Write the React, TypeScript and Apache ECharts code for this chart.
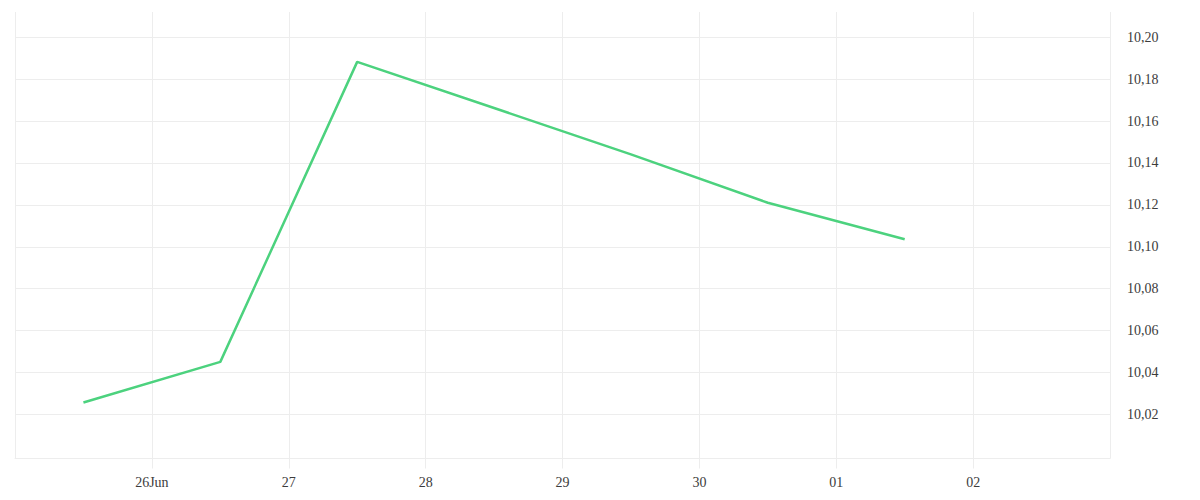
import React, { useEffect, useRef } from "react";
import * as echarts from "echarts";

const DAY = 86400000;
const xMin = Date.UTC(2024, 5, 25);
const xMax = Date.UTC(2024, 6, 3);
const pointDates = [
  "2024-06-25T12:00:00Z",
  "2024-06-26T12:00:00Z",
  "2024-06-27T12:00:00Z",
  "2024-06-28T12:00:00Z",
  "2024-06-29T12:00:00Z",
  "2024-06-30T12:00:00Z",
  "2024-07-01T12:00:00Z",
];
const values = [10.0257, 10.0451, 10.1882, 10.1662, 10.1441, 10.121, 10.1036];
const yTicks = [10.02, 10.04, 10.06, 10.08, 10.1, 10.12, 10.14, 10.16, 10.18, 10.2];
const yMin = 9.999;
const yMax = 10.212;
const monthNames = ["Jan", "Feb", "Mar", "Apr", "May", "Jun", "Jul", "Aug", "Sep", "Oct", "Nov", "Dec"];

const GRID = "#ededed";
const TEXT = "#3c3c3c";
const FONT = "'Liberation Serif', serif";

export default function App() {
  const ref = useRef<HTMLDivElement>(null);
  useEffect(() => {
    if (!ref.current) return;
    const chart = echarts.init(ref.current, undefined, { renderer: "svg" });
    const data = pointDates.map((d, i) => [Date.parse(d), values[i]]);
    chart.setOption({
      animation: false,
      backgroundColor: "#ffffff",
      grid: { left: 15, right: 90, top: 12, bottom: 41.5, containLabel: false },
      xAxis: {
        type: "value",
        min: xMin,
        max: xMax,
        interval: DAY,
        axisLine: { show: true, lineStyle: { color: GRID, width: 1 } },
        axisTick: { show: true, length: 10, lineStyle: { color: GRID, width: 1 } },
        splitLine: { show: true, lineStyle: { color: GRID, width: 1 } },
        axisLabel: {
          showMinLabel: false,
          showMaxLabel: false,
          margin: 17,
          color: TEXT,
          fontFamily: FONT,
          fontSize: 14,
          formatter: (v: number) => {
            const d = new Date(v);
            const day = String(d.getUTCDate()).padStart(2, "0");
            if (Math.abs(v - (xMin + DAY)) < 1) return day + monthNames[d.getUTCMonth()];
            return day;
          },
        },
      },
      yAxis: {
        type: "value",
        position: "right",
        min: yMin,
        max: yMax,
        splitNumber: 10,
        axisLine: { show: false },
        axisTick: { show: false },
        splitLine: { show: false },
        axisLabel: {
          showMinLabel: false,
          showMaxLabel: false,
          margin: 17,
          color: TEXT,
          fontFamily: FONT,
          fontSize: 14,
          formatter: (v: number) => {
            const match = yTicks.some((t) => Math.abs(t - v) < 1e-6);
            return match ? v.toFixed(2).replace(".", ",") : "";
          },
        },
      },
      series: [
        {
          type: "line",
          data,
          showSymbol: false,
          symbol: "none",
          lineStyle: { color: "#4cd27e", width: 2.5 },
          itemStyle: { color: "#4cd27e" },
          z: 3,
          markLine: {
            silent: true,
            symbol: ["none", "none"],
            label: { show: false },
            emphasis: { disabled: true },
            lineStyle: { color: GRID, type: "solid", width: 1 },
            data: yTicks.map((t) => ({ yAxis: t })),
            z: 1,
          },
        },
      ],
    });
    return () => chart.dispose();
  }, []);
  return (
    <div
      ref={ref}
      style={{ position: "fixed", left: 0, top: 0, width: 1200, height: 500 }}
    />
  );
}
